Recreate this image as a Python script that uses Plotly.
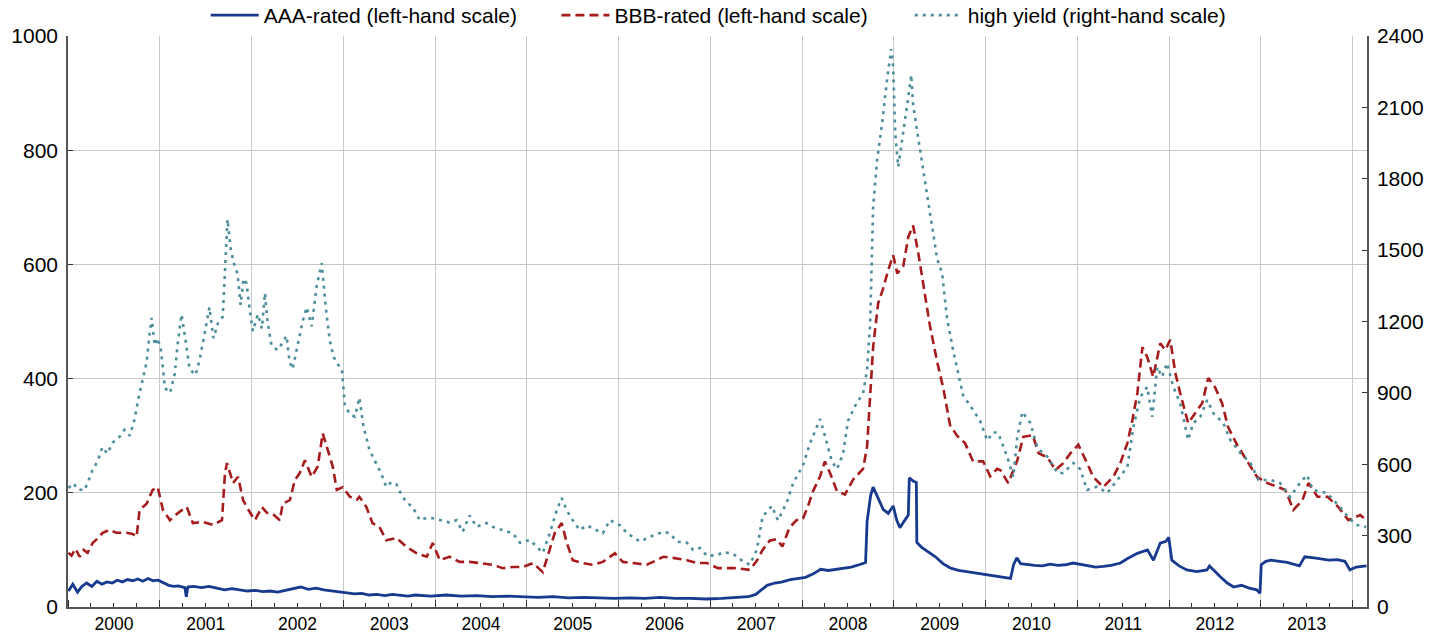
import plotly.graph_objects as go

# ---------------- data ----------------
aaa_dates = [
    "2000-01-03", "2000-01-20", "2000-02-08", "2000-02-25", "2000-03-15", "2000-04-05", "2000-04-25",
    "2000-05-15", "2000-06-05", "2000-06-25", "2000-07-15", "2000-08-05", "2000-08-25", "2000-09-15",
    "2000-10-05", "2000-10-25", "2000-11-15", "2000-12-05", "2000-12-25",
    "2001-01-15", "2001-02-05", "2001-02-25", "2001-03-15", "2001-04-10", "2001-04-16", "2001-04-22",
    "2001-05-15", "2001-06-15", "2001-07-15", "2001-08-15", "2001-09-15", "2001-10-15", "2001-11-15",
    "2001-12-15",
    "2002-01-15", "2002-02-15", "2002-03-15", "2002-04-15", "2002-05-15", "2002-06-15", "2002-07-15",
    "2002-08-15", "2002-09-15", "2002-10-15", "2002-11-15", "2002-12-15",
    "2003-01-15", "2003-02-15", "2003-03-15", "2003-04-15", "2003-05-15", "2003-06-15", "2003-07-15",
    "2003-08-15", "2003-09-15", "2003-10-15", "2003-11-15", "2003-12-15",
    "2004-02-15", "2004-04-15", "2004-06-15", "2004-08-15", "2004-10-15", "2004-12-15",
    "2005-02-15", "2005-04-15", "2005-06-15", "2005-08-15", "2005-10-15", "2005-12-15",
    "2006-02-15", "2006-04-15", "2006-06-15", "2006-08-15", "2006-10-15", "2006-12-15",
    "2007-02-15", "2007-04-15", "2007-06-01", "2007-07-01", "2007-07-25", "2007-08-15", "2007-09-15",
    "2007-10-15", "2007-11-15", "2007-12-15",
    "2008-01-15", "2008-02-15", "2008-03-15", "2008-04-15", "2008-05-15", "2008-06-15", "2008-07-15",
    "2008-08-15", "2008-09-10", "2008-09-16", "2008-09-30", "2008-10-10", "2008-10-30", "2008-11-19",
    "2008-12-09", "2008-12-29",
    "2009-01-12", "2009-01-25", "2009-02-10", "2009-02-27", "2009-03-03", "2009-03-20", "2009-03-31",
    "2009-04-02", "2009-04-20", "2009-05-15", "2009-06-15", "2009-07-15", "2009-08-15", "2009-09-15",
    "2009-10-15", "2009-11-15", "2009-12-15",
    "2010-01-15", "2010-02-15", "2010-03-15", "2010-04-10", "2010-04-22", "2010-05-05", "2010-05-20",
    "2010-06-15", "2010-07-15", "2010-08-15", "2010-09-15", "2010-10-15", "2010-11-15", "2010-12-15",
    "2011-01-15", "2011-02-15", "2011-03-15", "2011-04-15", "2011-05-15", "2011-06-22", "2011-07-20",
    "2011-08-28", "2011-10-07", "2011-10-31", "2011-11-27", "2011-12-20", "2011-12-31",
    "2012-01-12", "2012-02-10", "2012-03-12", "2012-04-20", "2012-05-31", "2012-06-10", "2012-07-23",
    "2012-08-20", "2012-09-14", "2012-10-15", "2012-11-15", "2012-12-15", "2012-12-28",
    "2013-01-02", "2013-01-20", "2013-02-10", "2013-03-16", "2013-04-15", "2013-06-03", "2013-06-24",
    "2013-08-01", "2013-09-28", "2013-11-01", "2013-12-01", "2013-12-21", "2014-01-15", "2014-02-25",
]
aaa_values = [
    28, 40, 26, 36, 42, 36, 45,
    40, 44, 42, 47, 44, 48, 46,
    49, 45, 50, 46, 47,
    42, 38, 36, 37, 34, 18, 35,
    36, 34, 36, 33, 30, 32, 30,
    28,
    29, 27, 28, 26, 29, 32, 35,
    31, 33, 30, 28, 27,
    25, 23, 24, 21, 22, 20, 22,
    21, 19, 21, 20, 19,
    21, 19, 20, 18, 19, 18,
    17, 18, 16, 17, 16, 15,
    16, 15, 17, 15, 15, 14,
    15, 16, 18, 22, 30, 38, 42,
    44, 48, 50,
    52, 58, 66, 64, 66, 68, 70,
    74, 78, 150, 195, 210, 190, 171,
    164, 177,
    152, 139, 150, 161, 226, 220, 218,
    113, 105, 98, 88, 76, 68, 64,
    62, 59, 57,
    55, 54, 52, 50, 74, 86, 76,
    74, 73, 72, 75, 73, 74, 77,
    75, 72, 70, 71, 73, 77, 85,
    94, 100, 82, 112, 115, 122,
    82, 72, 65, 62, 65, 72, 53,
    42, 35, 38, 33, 30, 24,
    74, 80, 82, 80, 78, 72, 88,
    86, 82, 83, 80, 65, 70, 72,
]

bbb_dates = [
    "2000-01-03", "2000-01-15", "2000-01-31", "2000-02-16", "2000-03-03", "2000-03-19", "2000-04-08",
    "2000-04-28", "2000-05-18", "2000-06-14", "2000-07-12", "2000-08-21", "2000-09-14", "2000-09-30",
    "2000-10-12", "2000-11-09", "2000-12-03", "2000-12-23",
    "2001-01-13", "2001-02-10", "2001-03-01", "2001-03-21", "2001-04-18", "2001-05-12", "2001-06-21",
    "2001-07-31", "2001-09-05", "2001-09-17", "2001-09-25", "2001-10-19", "2001-11-08", "2001-11-28",
    "2001-12-26",
    "2002-01-14", "2002-02-11", "2002-03-03", "2002-03-26", "2002-04-23", "2002-05-05", "2002-06-02",
    "2002-06-22", "2002-07-12", "2002-08-01", "2002-08-28", "2002-09-21", "2002-10-11", "2002-10-31",
    "2002-11-20", "2002-12-06", "2002-12-30",
    "2003-01-27", "2003-02-24", "2003-03-06", "2003-04-03", "2003-04-27", "2003-05-25", "2003-06-21",
    "2003-08-01", "2003-09-10", "2003-10-20", "2003-11-29", "2003-12-23",
    "2004-01-20", "2004-02-28", "2004-04-08", "2004-05-18", "2004-06-27", "2004-08-17", "2004-09-27",
    "2004-11-06", "2004-12-16",
    "2005-01-25", "2005-03-05", "2005-04-02", "2005-04-22", "2005-05-19", "2005-06-09", "2005-07-02",
    "2005-08-11", "2005-09-20", "2005-10-30", "2005-12-17",
    "2006-01-18", "2006-02-27", "2006-04-23", "2006-06-02", "2006-06-27", "2006-08-05", "2006-09-30",
    "2006-11-08", "2006-12-18",
    "2007-01-31", "2007-04-17", "2007-06-07", "2007-07-05", "2007-07-28", "2007-08-25", "2007-09-21",
    "2007-10-15", "2007-11-12", "2007-12-10",
    "2008-01-05", "2008-01-25", "2008-02-14", "2008-03-13", "2008-04-01", "2008-04-21", "2008-05-19",
    "2008-06-20", "2008-07-22", "2008-08-31", "2008-09-16", "2008-09-28", "2008-10-10", "2008-10-30",
    "2008-11-19", "2008-12-09", "2008-12-29",
    "2009-01-14", "2009-02-07", "2009-02-27", "2009-03-18", "2009-04-07", "2009-04-27", "2009-05-24",
    "2009-06-22", "2009-07-16", "2009-08-12", "2009-09-09", "2009-10-11", "2009-11-12", "2009-12-22",
    "2010-01-19", "2010-02-16", "2010-02-28", "2010-04-01", "2010-05-07", "2010-05-31", "2010-07-07",
    "2010-07-31", "2010-09-04", "2010-10-06", "2010-11-06", "2010-12-04",
    "2011-01-05", "2011-02-09", "2011-03-05", "2011-04-14", "2011-05-24", "2011-06-21", "2011-07-19",
    "2011-08-08", "2011-08-28", "2011-09-17", "2011-10-06", "2011-10-30", "2011-11-27", "2011-12-17",
    "2012-01-06", "2012-01-26", "2012-02-14", "2012-03-17", "2012-04-14", "2012-05-12", "2012-06-05",
    "2012-07-02", "2012-07-30", "2012-08-23", "2012-09-28", "2012-11-06", "2012-12-16",
    "2013-01-27", "2013-03-07", "2013-04-08", "2013-05-10", "2013-06-15", "2013-07-09", "2013-08-14",
    "2013-09-23", "2013-11-05", "2013-12-15", "2014-01-31", "2014-02-24",
]
bbb_values = [
    95, 90, 102, 88, 100, 95, 112,
    120, 130, 135, 130, 130, 128, 123,
    170, 181, 205, 210,
    170, 152, 160, 167, 175, 147, 149,
    144, 152, 235, 252, 217, 228, 187,
    165,
    152, 175, 165, 163, 152, 181, 187,
    222, 235, 257, 228, 246, 304, 275,
    246, 205, 210,
    193, 188, 193, 175, 147, 140, 117,
    121, 105, 94, 88, 112,
    82, 88, 79, 79, 77, 74, 68,
    70, 70,
    77, 61, 100, 130, 147, 112, 82,
    77, 74, 79, 94,
    79, 77, 74, 82, 88, 86, 82,
    77, 77,
    68, 68, 65, 81, 100, 116, 119,
    106, 139, 152,
    155, 177, 203, 229, 255, 235, 203,
    197, 223, 242, 281, 364, 455, 532,
    558, 590, 616,
    584, 597, 648, 668, 622, 564, 493,
    429, 384, 319, 300, 287, 255, 255,
    229, 242, 240, 217, 257, 298, 301,
    269, 262, 240, 252, 269,
    284, 252, 228, 210, 228, 252, 287,
    327, 375, 455, 438, 403, 462, 450,
    468, 410, 375, 322, 340, 357, 401,
    385, 357, 315, 284, 257, 228,
    217, 210, 205, 170, 187, 217, 193,
    193, 175, 152, 161, 152,
]

hy_dates = [
    "2000-01-03", "2000-01-23", "2000-02-08", "2000-03-06", "2000-03-26", "2000-04-07", "2000-04-27",
    "2000-05-17", "2000-06-06", "2000-06-26", "2000-07-24", "2000-08-13", "2000-09-03", "2000-09-22",
    "2000-10-08", "2000-10-24", "2000-11-09", "2000-11-21", "2000-11-29", "2000-12-11", "2000-12-23",
    "2001-01-05", "2001-01-21", "2001-02-10", "2001-03-01", "2001-03-12", "2001-03-28", "2001-04-13",
    "2001-04-29", "2001-05-23", "2001-06-08", "2001-06-28", "2001-07-17", "2001-08-02", "2001-08-22",
    "2001-09-08", "2001-09-19", "2001-09-27", "2001-10-09", "2001-10-21", "2001-11-06", "2001-11-18",
    "2001-11-30", "2001-12-12", "2001-12-24",
    "2002-01-06", "2002-01-26", "2002-02-11", "2002-02-23", "2002-03-05", "2002-03-21", "2002-04-14",
    "2002-05-04", "2002-05-20", "2002-06-01", "2002-06-13", "2002-07-03", "2002-07-23", "2002-08-08",
    "2002-08-28", "2002-09-17", "2002-10-07", "2002-10-23", "2002-11-08", "2002-11-24", "2002-12-10",
    "2002-12-26",
    "2003-01-07", "2003-01-27", "2003-02-16", "2003-03-06", "2003-03-22", "2003-04-15", "2003-05-12",
    "2003-06-01", "2003-06-21", "2003-07-11", "2003-08-01", "2003-08-21", "2003-09-10", "2003-10-04",
    "2003-11-01", "2003-11-29", "2003-12-23",
    "2004-01-20", "2004-02-28", "2004-03-27", "2004-04-20", "2004-05-18", "2004-06-14", "2004-07-24",
    "2004-08-17", "2004-09-27", "2004-11-06", "2004-12-04",
    "2005-01-13", "2005-02-10", "2005-03-05", "2005-04-02", "2005-04-29", "2005-05-19", "2005-06-09",
    "2005-07-02", "2005-07-30", "2005-08-27", "2005-10-06", "2005-10-30", "2005-11-27",
    "2006-01-07", "2006-02-04", "2006-03-27", "2006-05-06", "2006-06-27", "2006-07-24", "2006-08-21",
    "2006-09-30", "2006-10-24", "2006-11-21", "2006-12-19",
    "2007-01-28", "2007-02-21", "2007-03-31", "2007-05-09", "2007-06-07", "2007-07-05", "2007-07-28",
    "2007-09-03", "2007-09-27", "2007-11-02", "2007-11-26",
    "2008-01-05", "2008-02-02", "2008-03-13", "2008-04-01", "2008-04-29", "2008-05-19", "2008-06-12",
    "2008-07-02", "2008-07-29", "2008-08-31", "2008-09-16", "2008-09-28", "2008-10-06", "2008-10-10",
    "2008-10-26", "2008-11-15", "2008-12-05", "2008-12-21", "2008-12-29",
    "2009-01-06", "2009-01-18", "2009-02-03", "2009-02-23", "2009-03-11", "2009-03-18", "2009-04-07",
    "2009-04-23", "2009-05-13", "2009-06-02", "2009-06-22", "2009-07-12", "2009-07-31", "2009-08-25",
    "2009-10-03", "2009-11-12", "2009-12-10",
    "2010-01-07", "2010-02-01", "2010-02-20", "2010-03-28", "2010-04-21", "2010-05-07", "2010-05-27",
    "2010-06-28", "2010-07-26", "2010-09-04", "2010-10-14", "2010-11-06", "2010-12-16",
    "2011-01-12", "2011-02-09", "2011-03-21", "2011-04-30", "2011-06-09", "2011-07-19", "2011-08-12",
    "2011-09-09", "2011-10-06", "2011-10-26", "2011-11-15", "2011-12-04", "2011-12-24",
    "2012-01-18", "2012-02-14", "2012-03-17", "2012-04-06", "2012-05-04", "2012-06-01", "2012-06-25",
    "2012-08-04", "2012-09-01", "2012-10-11", "2012-11-20", "2012-12-22",
    "2013-02-08", "2013-03-18", "2013-04-27", "2013-06-05", "2013-07-03", "2013-07-27", "2013-09-21",
    "2013-11-11", "2013-12-21", "2014-01-16", "2014-02-24",
]
hy_values = [
    500, 520, 495, 490, 540, 575, 610,
    672, 645, 690, 715, 745, 720, 790,
    880, 950, 1030, 1150, 1215, 1100, 1130,
    1080, 920, 900, 980, 1100, 1230, 1120,
    1000, 975, 1040, 1150, 1260, 1130, 1200,
    1220, 1450, 1630, 1510, 1450, 1400, 1270,
    1380, 1360, 1250,
    1160, 1230, 1170, 1320, 1200, 1100, 1080,
    1110, 1140, 1030, 1000, 1100, 1200, 1260,
    1180, 1350, 1445, 1260, 1120, 1050, 1020,
    1000,
    850, 810, 800, 880, 760, 660, 605,
    560, 505, 525, 515, 470, 440, 420,
    365, 375, 373,
    365, 355, 365, 316, 385, 337, 353,
    337, 323, 310, 270,
    282, 252, 227, 310, 405, 458, 405,
    365, 323, 343, 323, 310, 365,
    343, 310, 275, 295, 316, 310, 275,
    270, 240, 248, 215,
    218, 230, 225, 193, 178, 240, 380,
    425, 364, 441, 519,
    596, 689, 790, 720, 611, 580, 642,
    782, 843, 898, 998, 1184, 1463, 1680,
    1880, 2035, 2221, 2345, 2268,
    1989, 1850, 1958, 2113, 2237, 2113, 1974,
    1865, 1742, 1587, 1463, 1401, 1215, 1076,
    890, 828, 782,
    700, 735, 731, 631, 546, 715, 820,
    773, 668, 631, 563, 563, 605,
    580, 492, 506, 479, 534, 588, 757,
    883, 925, 799, 1009, 967, 1025,
    925, 857, 702, 773, 799, 870, 815,
    773, 702, 647, 605, 534,
    534, 521, 462, 521, 555, 492, 479,
    420, 370, 345, 336,
]

series_names = [
    "AAA-rated (left-hand scale)",
    "BBB-rated (left-hand scale)",
    "high yield (right-hand scale)",
]
left_ticks = [0, 200, 400, 600, 800, 1000]
right_ticks = [0, 300, 600, 900, 1200, 1500, 1800, 2100, 2400]
x_range = ["2000-01-01", "2014-02-27"]

# ---------------- styling ----------------
FONT = "Liberation Sans, Arial, sans-serif"
C_AAA = "#173A8E"
C_BBB = "#A61C1C"
C_HY = "#4C8E9B"
GRID = "#C8C8C8"
AXIS = "#555555"

fig = go.Figure()
fig.add_trace(go.Scatter(
    x=aaa_dates, y=aaa_values, name=series_names[0], mode="lines",
    line=dict(color=C_AAA, width=2.8), legend="legend", yaxis="y",
))
fig.add_trace(go.Scatter(
    x=bbb_dates, y=bbb_values, name=series_names[1], mode="lines",
    line=dict(color=C_BBB, width=2.6, dash="9px,5px"), legend="legend2", yaxis="y",
))
fig.add_trace(go.Scatter(
    x=hy_dates, y=hy_values, name=series_names[2], mode="lines",
    line=dict(color=C_HY, width=2.6, dash="3px,5px"), legend="legend3", yaxis="y2",
))

legend_common = dict(
    orientation="h", xanchor="left", y=1.0, yanchor="bottom",
    font=dict(size=21, family=FONT, color="#000000"),
    bgcolor="rgba(0,0,0,0)", itemwidth=48,
)

fig.update_layout(
    width=1442, height=635,
    margin=dict(l=68, r=75, t=36, b=28, autoexpand=False),
    paper_bgcolor="white", plot_bgcolor="white",
    font=dict(family=FONT, color="#000000"),
    showlegend=True,
    legend=dict(x=0.106, **legend_common),
    legend2=dict(x=0.376, **legend_common),
    legend3=dict(x=0.648, **legend_common),
    xaxis=dict(
        type="date", range=x_range,
        tick0="2000-01-01", dtick="M12", ticklabelmode="period", tickformat="%Y",
        ticks="inside", ticklen=7, tickwidth=1, tickcolor="#333333",
        showgrid=True, gridcolor=GRID, gridwidth=1,
        showline=True, linecolor=AXIS, linewidth=1.5,
        minor=dict(dtick="M3", tick0="2000-01-01", ticks="inside", ticklen=4,
                   tickcolor="#333333", showgrid=False),
        tickfont=dict(size=17.5, family=FONT, color="#000000"),
        zeroline=False,
    ),
    yaxis=dict(
        range=[0, 1000], tickvals=left_ticks,
        ticks="inside", ticklen=5, tickcolor="#333333",
        showgrid=True, gridcolor=GRID, gridwidth=1,
        showline=True, linecolor=AXIS, linewidth=1.5,
        tickfont=dict(size=21, family=FONT, color="#000000"),
        ticklabelstandoff=4,
        zeroline=False,
    ),
    yaxis2=dict(
        range=[0, 2400], tickvals=right_ticks, overlaying="y", side="right",
        ticks="inside", ticklen=5, tickcolor="#333333",
        showgrid=False, showline=True, linecolor=AXIS, linewidth=1.5,
        tickfont=dict(size=21, family=FONT, color="#000000"),
        ticklabelstandoff=4,
        zeroline=False,
    ),
)

fig.write_html(
    "out.html",
    config={"displayModeBar": False},
    post_script="document.body.style.margin='0px';document.body.style.padding='0px';"
                "document.documentElement.style.overflow='hidden';",
)
